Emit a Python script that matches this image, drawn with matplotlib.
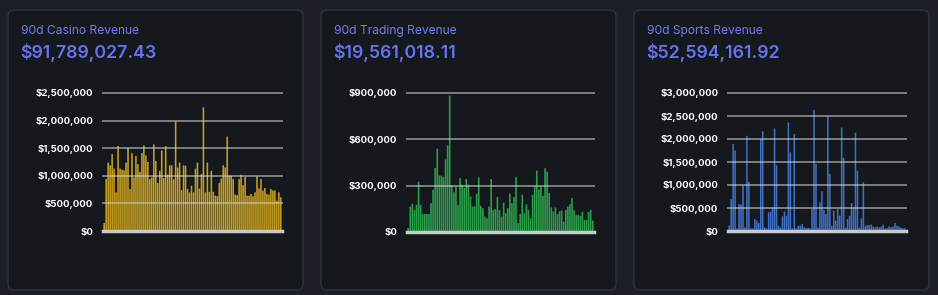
import matplotlib
matplotlib.use('Agg')
import matplotlib.pyplot as plt
from matplotlib.patches import FancyBboxPatch
from matplotlib.ticker import FuncFormatter

plt.rcParams['font.family'] = ['Inter', 'DejaVu Sans']

titles = ['90d Casino Revenue', '90d Trading Revenue', '90d Sports Revenue']
totals = ['$91,789,027.43', '$19,561,018.11', '$52,594,161.92']

casino = [145e3, 940e3, 1.24e6, 1.19e6, 1.39e6, 1.13e6, 700e3, 1.54e6, 1.13e6, 1.11e6,
          1.10e6, 1.24e6, 1.51e6, 760e3, 1.41e6, 970e3, 1.36e6, 1.21e6, 1.07e6, 1.41e6,
          1.55e6, 1.37e6, 1.25e6, 940e3, 970e3, 1.57e6, 1.27e6, 870e3, 1.09e6, 1.46e6,
          960e3, 1.54e6, 1.02e6, 1.19e6, 1.19e6, 940e3, 1.98e6, 1.15e6, 1.24e6, 740e3,
          1.19e6, 1.18e6, 760e3, 700e3, 820e3, 700e3, 1.13e6, 1.24e6, 770e3, 1.03e6,
          2.24e6, 700e3, 1.24e6, 710e3, 1.09e6, 710e3, 640e3, 630e3, 870e3, 950e3,
          1.19e6, 1.15e6, 1.71e6, 1.0e6, 1.0e6, 940e3, 660e3, 650e3, 940e3, 1.02e6,
          830e3, 980e3, 640e3, 640e3, 670e3, 630e3, 700e3, 990e3, 770e3, 940e3,
          730e3, 780e3, 670e3, 660e3, 760e3, 735e3, 735e3, 550e3, 700e3, 610e3]

trading = [26e3, 165e3, 183e3, 143e3, 176e3, 326e3, 176e3, 117e3, 117e3, 117e3,
           117e3, 187e3, 274e3, 415e3, 539e3, 365e3, 365e3, 357e3, 470e3, 561e3,
           883e3, 304e3, 257e3, 296e3, 176e3, 350e3, 307e3, 285e3, 343e3, 307e3,
           230e3, 165e3, 165e3, 248e3, 354e3, 170e3, 154e3, 100e3, 89e3, 165e3,
           343e3, 143e3, 148e3, 226e3, 143e3, 100e3, 191e3, 122e3, 154e3, 248e3,
           187e3, 226e3, 357e3, 57e3, 117e3, 241e3, 122e3, 180e3, 143e3, 89e3,
           241e3, 296e3, 398e3, 274e3, 296e3, 235e3, 413e3, 391e3, 252e3, 159e3,
           133e3, 159e3, 115e3, 133e3, 139e3, 67e3, 143e3, 165e3, 180e3, 220e3,
           143e3, 111e3, 111e3, 104e3, 130e3, 78e3, 78e3, 130e3, 143e3, 74e3]

sports = [116e3, 696e3, 1.89e6, 1.75e6, 58e3, 587e3, 580e3, 985e3, 80e3, 2.07e6,
          1.07e6, 58e3, 58e3, 260e3, 225e3, 174e3, 2.0e6, 2.17e6, 80e3, 58e3,
          406e3, 420e3, 514e3, 2.23e6, 1.43e6, 116e3, 80e3, 319e3, 420e3, 333e3,
          2.36e6, 1.71e6, 58e3, 2.11e6, 58e3, 116e3, 116e3, 152e3, 80e3, 58e3,
          70e3, 58e3, 478e3, 2.63e6, 1.46e6, 80e3, 623e3, 862e3, 456e3, 370e3,
          2.49e6, 1.24e6, 116e3, 442e3, 225e3, 478e3, 333e3, 2.25e6, 1.59e6, 80e3,
          260e3, 333e3, 609e3, 514e3, 2.14e6, 1.31e6, 80e3, 275e3, 1.06e6, 116e3,
          130e3, 130e3, 137e3, 94e3, 80e3, 94e3, 80e3, 101e3, 137e3, 58e3,
          58e3, 101e3, 80e3, 94e3, 174e3, 116e3, 101e3, 70e3, 58e3, 58e3]

series = [casino, trading, sports]
colors = ['#c8a01e', '#2a9d4a', '#3f6fc0']
ytops = [2.5e6, 900e3, 3.0e6]
ysteps = [500e3, 300e3, 500e3]

W, H = 938, 295
fig = plt.figure(figsize=(W / 100, H / 100), dpi=100)
fig.patch.set_facecolor('#1c1f25')

bg = fig.add_axes([0, 0, 1, 1])
bg.set_xlim(0, W)
bg.set_ylim(H, 0)
bg.axis('off')

card_x = [8, 321, 634]
for i, cx in enumerate(card_x):
    bg.add_patch(FancyBboxPatch((cx, 10), 295, 280,
                                boxstyle='round,pad=0,rounding_size=6',
                                facecolor='#15181d', edgecolor='#30343c', linewidth=1))
    bg.text(cx + 13, 31, titles[i], color='#6f7bef', fontsize=8.7, va='center')
    bg.text(cx + 12, 52, totals[i], color='#6673ee', fontsize=12.8,
            fontweight='semibold', va='center')

# plot areas in pixels: left, right, top, bottom
boxes = [(103, 282, 93, 231), (407, 594, 93, 232), (728, 906, 93, 231)]

fmt = FuncFormatter(lambda v, p: '${:,.0f}'.format(v))

for vals, col, ytop, step, (l, r, t, b) in zip(series, colors, ytops, ysteps, boxes):
    ax = fig.add_axes([l / W, (H - b) / H, (r - l) / W, (b - t) / H])
    ax.set_facecolor('none')
    x = list(range(len(vals)))
    bars = ax.bar(x, vals, width=0.8, color=col, zorder=2, linewidth=0)
    for p in bars:
        p.set_snap(False)
    ax.set_xlim(-0.6, len(vals) - 0.4)
    ax.set_ylim(0, ytop)
    ticks = [k * step for k in range(int(round(ytop / step)) + 1)]
    ax.set_yticks(ticks)
    ax.yaxis.set_major_formatter(fmt)
    for tk in ticks[1:]:
        ax.axhline(tk, color='#cfcfcf', alpha=0.55, linewidth=1.4, zorder=3, clip_on=False)
    ax.axhline(0, color='#c9c9c9', linewidth=2.5, zorder=4, clip_on=False)
    ax.set_xticks([])
    for s in ax.spines.values():
        s.set_visible(False)
    ax.tick_params(axis='y', length=0, pad=7, labelcolor='white', labelsize=6.9)
    for lab in ax.get_yticklabels():
        lab.set_fontweight('bold')

fig.savefig('out.png', dpi=100, facecolor=fig.get_facecolor())
